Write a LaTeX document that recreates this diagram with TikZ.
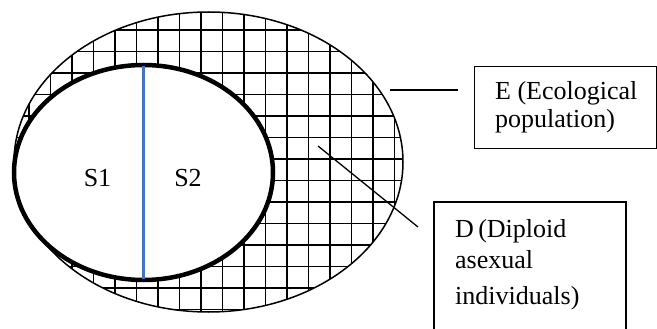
\documentclass[tikz,border=0pt]{standalone}
\usepackage{fontspec}
\setmainfont{Liberation Serif}
\definecolor{divblue}{RGB}{68,114,196}
\begin{document}
\begin{tikzpicture}[x=1pt,y=-1pt,
  gridline/.style={line width=1.8pt,black},
  outerline/.style={line width=1.5pt,black},
  innerline/.style={line width=4.5pt,black,fill=white},
  labelbox/.style={draw,line width=1.1pt,inner sep=0pt},
  lbl/.style={inner sep=0pt,anchor=base west,font=\fontsize{26}{30}\selectfont},
  sl/.style={inner sep=0pt,anchor=base,font=\fontsize{26}{30}\selectfont},
  conn/.style={line width=1.3pt,black}]
\useasboundingbox (0,0) rectangle (657,329);
% outer ecological population with grid
\begin{scope}
  \clip (208.5,162) ellipse [x radius=194.5, y radius=150];
  \foreach \i in {-5,...,14} \draw[gridline] (115+21.5*\i,0) -- (115+21.5*\i,329);
  \foreach \j in {-2,...,14} \draw[gridline] (0,30+21.5*\j) -- (657,30+21.5*\j);
\end{scope}
\draw[outerline] (208.5,162) ellipse [x radius=194.5, y radius=150];
% inner sexual population
\draw[innerline] (143.5,172.5) ellipse [x radius=129.5, y radius=107.5];
\coordinate (top) at (143.5,66);
\coordinate (bot) at (143.5,279);
\draw[divblue,line width=2.2pt] (top) -- (bot);
\node[sl] (s1) at (97.5,186) {S1};
\node[sl] (s2) at (188,186) {S2};
% E label
\node[labelbox,anchor=north west,minimum width=182,minimum height=82] (ebox) at (474,66) {};
\node[lbl] (e1) at (495,100) {E (Ecological};
\node[lbl] (e2) at (495,128) {population)};
\coordinate (ea) at (390,90);
\coordinate (eb) at (458,90);
\draw[conn] (ea) -- (eb);
% D label
\draw[line width=1.1pt] (434,340) -- (434,202) -- (626,202) -- (626,340);
\node[lbl] (d1) at (455,237) {D\,(Diploid};
\node[lbl] (d2) at (455,268) {asexual};
\node[lbl] (d3) at (455,304) {individuals)};
\coordinate (da) at (318,146);
\coordinate (db) at (418,227);
\draw[conn] (da) -- (db);
\end{tikzpicture}
\end{document}
